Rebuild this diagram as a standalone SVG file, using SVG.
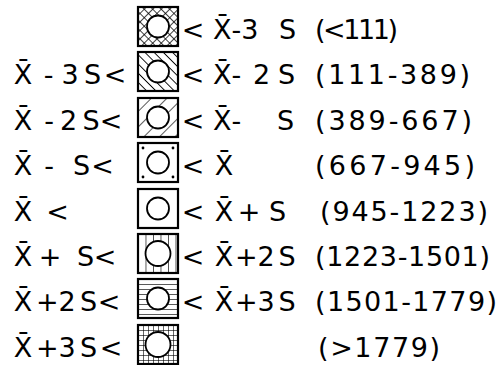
<svg xmlns="http://www.w3.org/2000/svg" width="498" height="365" viewBox="0 0 498 365">
<style>
.t{font-family:"DejaVu Sans",sans-serif;font-size:27px;fill:#000;text-anchor:middle}
.p{font-family:"DejaVu Sans",sans-serif;font-size:27px;fill:#000;text-anchor:start}
.box{stroke:#000;stroke-width:2.2}
.c{fill:#fff;stroke:#000;stroke-width:1.8}
</style>
<defs>
<pattern id="xh" patternUnits="userSpaceOnUse" width="6" height="6" patternTransform="rotate(45)">
<rect width="6" height="6" fill="#fff"/>
<line x1="0" y1="0" x2="0" y2="6" stroke="#000" stroke-width="1.5"/>
<line x1="0" y1="0" x2="6" y2="0" stroke="#000" stroke-width="1.5"/>
</pattern>
<pattern id="bs" patternUnits="userSpaceOnUse" width="6.5" height="6.5" patternTransform="rotate(-45)">
<rect width="6.5" height="6.5" fill="#fff"/>
<line x1="0" y1="0" x2="0" y2="6.5" stroke="#000" stroke-width="1.8"/>
</pattern>
<pattern id="fs" patternUnits="userSpaceOnUse" width="11" height="11" patternTransform="rotate(45)">
<rect width="11" height="11" fill="#fff"/>
<line x1="0" y1="0" x2="0" y2="11" stroke="#000" stroke-width="1.3"/>
</pattern>
<pattern id="vl" patternUnits="userSpaceOnUse" x="138" width="7.5" height="10">
<rect width="7.5" height="10" fill="#fff"/>
<line x1="0" y1="0" x2="0" y2="10" stroke="#000" stroke-width="1.3"/>
</pattern>
<pattern id="hl" patternUnits="userSpaceOnUse" y="279" width="10" height="5">
<rect width="10" height="5" fill="#fff"/>
<line x1="0" y1="0" x2="10" y2="0" stroke="#000" stroke-width="1.3"/>
</pattern>
<pattern id="gr" patternUnits="userSpaceOnUse" x="138" y="325" width="5" height="5">
<rect width="5" height="5" fill="#fff"/>
<line x1="0" y1="0" x2="5" y2="0" stroke="#000" stroke-width="1.2"/>
<line x1="0" y1="0" x2="0" y2="5" stroke="#000" stroke-width="1.2"/>
</pattern>
</defs>
<rect width="498" height="365" fill="#fff"/>

<g id="row1">
<rect class="box" x="138" y="7" width="40" height="39" fill="url(#xh)" stroke-width="3"/>
<circle class="c" cx="158" cy="26.5" r="11"/>
<text class="t" y="39"><tspan x="193">&lt;</tspan><tspan x="287.5">S</tspan></text>
<text class="p" x="213" y="39">X̄-3</text>
<text class="p" x="315" y="39" textLength="83" lengthAdjust="spacing">(&lt;111)</text>
</g>

<g id="row2">
<rect class="box" x="138" y="52" width="40" height="39" fill="url(#bs)"/>
<circle class="c" cx="158" cy="71.5" r="11"/>
<text class="t" y="84"><tspan x="23">X̄</tspan><tspan x="48.5">-</tspan><tspan x="70">3</tspan><tspan x="92.5">S</tspan><tspan x="115">&lt;</tspan></text>
<text class="t" y="84"><tspan x="193">&lt;</tspan><tspan x="261.5">2</tspan><tspan x="286.5">S</tspan></text>
<text class="p" x="213" y="84">X̄-</text>
<text class="p" x="315" y="84" textLength="155" lengthAdjust="spacing">(111-389)</text>
</g>

<g id="row3">
<rect class="box" x="138" y="98" width="40" height="39" fill="url(#fs)"/>
<circle class="c" cx="158" cy="117.5" r="11"/>
<text class="t" y="130"><tspan x="23">X̄</tspan><tspan x="49">-</tspan><tspan x="68.5">2</tspan><tspan x="91">S</tspan><tspan x="111">&lt;</tspan></text>
<text class="t" y="130"><tspan x="193">&lt;</tspan><tspan x="285.5">S</tspan></text>
<text class="p" x="213" y="130">X̄-</text>
<text class="p" x="315" y="130" textLength="157" lengthAdjust="spacing">(389-667)</text>
</g>

<g id="row4">
<rect class="box" x="138" y="143" width="40" height="39" fill="#fff"/>
<g fill="#000">
<circle cx="143" cy="148" r="1.4"/><circle cx="173" cy="148" r="1.4"/>
<circle cx="143" cy="177" r="1.4"/><circle cx="173" cy="177" r="1.4"/>
</g>
<circle class="c" cx="158" cy="162.5" r="11"/>
<text class="t" y="175"><tspan x="23">X̄</tspan><tspan x="49">-</tspan><tspan x="81.5">S</tspan><tspan x="102.5">&lt;</tspan></text>
<text class="t" y="175"><tspan x="193">&lt;</tspan><tspan x="224">X̄</tspan></text>
<text class="p" x="315" y="175" textLength="160" lengthAdjust="spacing">(667-945)</text>
</g>

<g id="row5">
<rect class="box" x="138" y="189" width="40" height="39" fill="#fff"/>
<circle class="c" cx="158" cy="208.5" r="11"/>
<text class="t" y="221"><tspan x="23">X̄</tspan><tspan x="57.5">&lt;</tspan></text>
<text class="t" y="221"><tspan x="193">&lt;</tspan><tspan x="224">X̄</tspan><tspan x="249">+</tspan><tspan x="277.5">S</tspan></text>
<text class="p" x="320" y="221" textLength="168" lengthAdjust="spacing">(945-1223)</text>
</g>

<g id="row6">
<rect class="box" x="138" y="234" width="40" height="39" fill="url(#vl)"/>
<circle class="c" cx="158" cy="253.5" r="12.5"/>
<text class="t" y="266"><tspan x="23">X̄</tspan><tspan x="50">+</tspan><tspan x="85.5">S</tspan><tspan x="105">&lt;</tspan></text>
<text class="t" y="266"><tspan x="193">&lt;</tspan><tspan x="224">X̄</tspan><tspan x="287">S</tspan></text>
<text class="p" x="235" y="266">+2</text>
<text class="p" x="315" y="266" textLength="175" lengthAdjust="spacing">(1223-1501)</text>
</g>

<g id="row7">
<rect class="box" x="138" y="279" width="40" height="39" fill="url(#hl)"/>
<circle class="c" cx="158" cy="298.5" r="11"/>
<text class="t" y="311"><tspan x="23">X̄</tspan><tspan x="88.5">S</tspan><tspan x="109">&lt;</tspan></text>
<text class="p" x="36" y="311">+2</text>
<text class="t" y="311"><tspan x="193">&lt;</tspan><tspan x="224">X̄</tspan><tspan x="287">S</tspan></text>
<text class="p" x="235" y="311">+3</text>
<text class="p" x="315" y="311" textLength="182" lengthAdjust="spacing">(1501-1779)</text>
</g>

<g id="row8">
<rect class="box" x="138" y="325" width="40" height="39" fill="url(#gr)"/>
<circle class="c" cx="158" cy="344.5" r="12.5"/>
<text class="t" y="357"><tspan x="23">X̄</tspan><tspan x="88.5">S</tspan><tspan x="111">&lt;</tspan></text>
<text class="p" x="36" y="357">+3</text>
<text class="p" x="318" y="357" textLength="122" lengthAdjust="spacing">(&gt;1779)</text>
</g>
</svg>
